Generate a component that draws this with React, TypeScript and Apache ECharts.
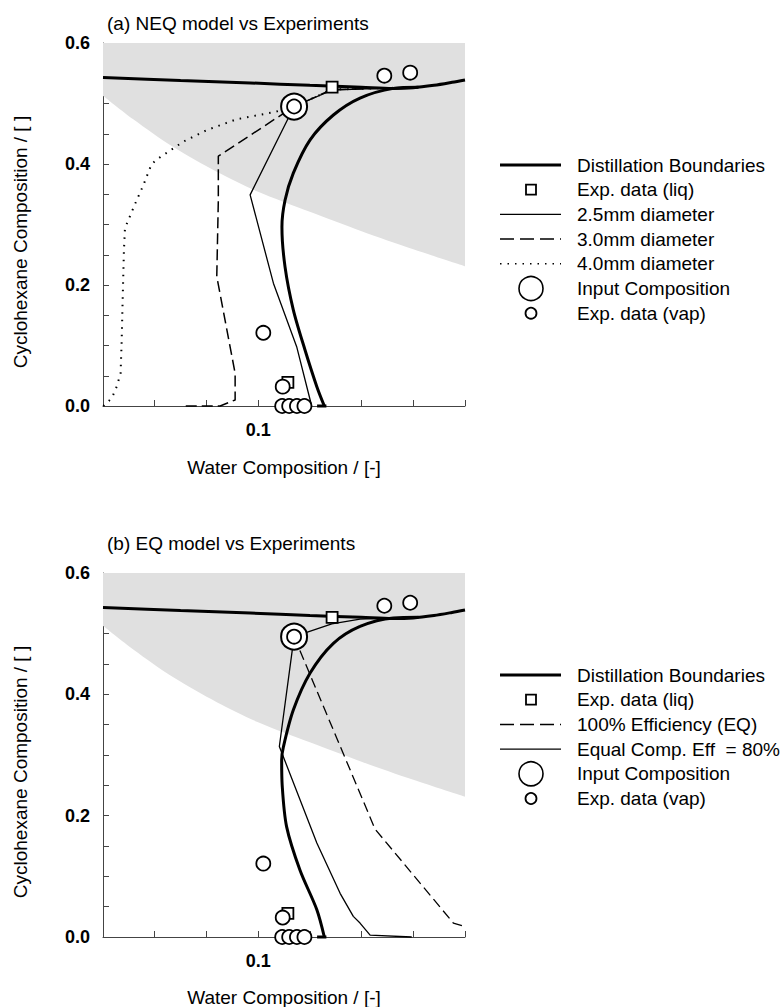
import React, { useEffect, useRef } from "react";
import * as echarts from "echarts";

// ---------- data ----------
const xTickLabels = [0.1];
const yTickLabels = [0.0, 0.2, 0.4, 0.6];

// shaded region lower boundary (region extends up to 0.6)
const grayX = [0.04, 0.0517, 0.0672, 0.084, 0.0995, 0.12, 0.14, 0.16, 0.18];
const grayY = [0.513, 0.474, 0.428, 0.387, 0.355, 0.321, 0.289, 0.259, 0.231];

// distillation boundaries
const boundUpperX = [0.04, 0.07, 0.097, 0.12, 0.14, 0.152, 0.16, 0.168, 0.175, 0.18];
const boundUpperY = [0.543, 0.538, 0.534, 0.53, 0.527, 0.525, 0.526, 0.53, 0.535, 0.539];
const boundStubX = [0.1228, 0.1264];
const boundStubY = [0, 0];
const boundCurveAX = [0.1256, 0.1227, 0.1181, 0.1136, 0.1104, 0.1092, 0.1104, 0.1136, 0.1201, 0.1291, 0.1394, 0.1523, 0.162];
const boundCurveAY = [0, 0.032, 0.093, 0.159, 0.23, 0.296, 0.34, 0.385, 0.44, 0.481, 0.509, 0.525, 0.527];
const boundCurveBX = [0.1256, 0.1227, 0.1162, 0.111, 0.1093, 0.1091, 0.1098, 0.1136, 0.1201, 0.1291, 0.1394, 0.1523, 0.162];
const boundCurveBY = [0, 0.045, 0.11, 0.182, 0.25, 0.292, 0.314, 0.374, 0.435, 0.484, 0.512, 0.526, 0.527];

// panel (a) NEQ model profiles
const d25X = [0.1207, 0.1149, 0.1059, 0.0969, 0.1139, 0.1285, 0.152];
const d25Y = [0, 0.098, 0.203, 0.349, 0.495, 0.522, 0.526];
const d30X = [0.072, 0.0853, 0.0911, 0.0911, 0.084, 0.0846, 0.0846, 0.1139, 0.1285, 0.152];
const d30Y = [0, 0, 0.01, 0.054, 0.214, 0.34, 0.413, 0.495, 0.523, 0.526];
const d40X = [0.0401, 0.0434, 0.0453, 0.0468, 0.0472, 0.0476, 0.0481, 0.0485, 0.0524, 0.0556, 0.0588, 0.062, 0.0711, 0.0801, 0.0917, 0.1065, 0.1139, 0.1285, 0.152];
const d40Y = [0, 0.013, 0.032, 0.054, 0.104, 0.175, 0.258, 0.294, 0.334, 0.365, 0.4, 0.411, 0.437, 0.456, 0.474, 0.486, 0.495, 0.523, 0.526];

// panel (b) EQ model profiles
const eq100X = [0.1139, 0.1452, 0.1755, 0.18];
const eq100Y = [0.495, 0.178, 0.023, 0.017];
const eq80X = [0.1594, 0.1433, 0.1394, 0.1368, 0.1317, 0.1227, 0.1082, 0.1139, 0.1285, 0.1394, 0.152];
const eq80Y = [0, 0.003, 0.023, 0.034, 0.072, 0.155, 0.314, 0.495, 0.516, 0.524, 0.526];

// experiments
const vapX = [0.1488, 0.1588, 0.102, 0.1095, 0.1093, 0.112, 0.115, 0.1179, 0.1139];
const vapY = [0.546, 0.551, 0.121, 0.032, 0, 0, 0, 0, 0.495];
const liqX = [0.1286, 0.1115];
const liqY = [0.527, 0.039];
const inputX = [0.1139];
const inputY = [0.495];

const legendA = ["Distillation Boundaries", "Exp. data (liq)", "2.5mm diameter", "3.0mm diameter", "4.0mm diameter", "Input Composition", "Exp. data (vap)"];
const legendB = ["Distillation Boundaries", "Exp. data (liq)", "100% Efficiency (EQ)", "Equal Comp. Eff  = 80%", "Input Composition", "Exp. data (vap)"];

const FONT = "'Liberation Sans', Arial, Helvetica, sans-serif";
const FS = 19;
const zip = (xs: number[], ys: number[]) => xs.map((x, i) => [x, ys[i]]);

function lineSeries(name: string, idx: number, xs: number[], ys: number[], width: number, type: any, smooth: any = false, z = 3) {
  return {
    name, type: "line", xAxisIndex: idx, yAxisIndex: idx, data: zip(xs, ys),
    symbol: "none", smooth, clip: false, z, silent: true,
    lineStyle: { color: "#000", width, type },
  };
}
function scatterSeries(name: string, idx: number, xs: number[], ys: number[], symbol: string, size: number, bw: number, z: number) {
  return {
    name, type: "scatter", xAxisIndex: idx, yAxisIndex: idx, data: zip(xs, ys),
    symbol, symbolSize: size, clip: false, z, silent: true,
    itemStyle: { color: "#fff", borderColor: "#000", borderWidth: bw, opacity: 1 },
  };
}

function legendGraphics(items: string[], kinds: string[], top: number, step: number) {
  const els: any[] = [];
  items.forEach((label, i) => {
    const y = top + i * step;
    const k = kinds[i];
    const lx1 = 500, lx2 = 561, cx = 531;
    if (k === "thick") els.push({ type: "line", shape: { x1: lx1, y1: y, x2: lx2, y2: y }, style: { stroke: "#000", lineWidth: 3 } });
    if (k === "thin") els.push({ type: "line", shape: { x1: lx1, y1: y, x2: lx2, y2: y }, style: { stroke: "#000", lineWidth: 1.3 } });
    if (k === "dash") els.push({ type: "line", shape: { x1: lx1, y1: y, x2: lx2, y2: y }, style: { stroke: "#000", lineWidth: 1.5, lineDash: [14, 6] } });
    if (k === "dot") els.push({ type: "line", shape: { x1: lx1, y1: y, x2: lx2, y2: y }, style: { stroke: "#000", lineWidth: 1.6, lineDash: [1.5, 6] } });
    if (k === "square") els.push({ type: "rect", shape: { x: cx - 5, y: y - 5, width: 10, height: 10 }, style: { fill: "#fff", stroke: "#000", lineWidth: 1.8 } });
    if (k === "big") els.push({ type: "circle", shape: { cx, cy: y, r: 12 }, style: { fill: "#fff", stroke: "#000", lineWidth: 1.6 } });
    if (k === "small") els.push({ type: "circle", shape: { cx, cy: y, r: 5.5 }, style: { fill: "#fff", stroke: "#000", lineWidth: 1.8 } });
    els.push({ type: "text", x: 577, y, style: { text: label, fill: "#000", fontSize: FS, fontFamily: FONT, align: "left", verticalAlign: "middle" } });
  });
  return els;
}

export default function App() {
  const ref = useRef<HTMLDivElement>(null);
  useEffect(() => {
    if (!ref.current) return;
    const chart = echarts.init(ref.current, null, { renderer: "svg" });
    const grids = [
      { left: 103, top: 43, width: 362, height: 363 },
      { left: 103, top: 573, width: 362, height: 364 },
    ];
    const xAxes = [0, 1].map((i) => ({
      gridIndex: i, type: "value", min: 0.04, max: 0.18, interval: 0.02,
      axisLine: { show: true, onZero: false, lineStyle: { color: "#444", width: 1 } },
      axisTick: { show: true, inside: true, length: 6, lineStyle: { color: "#444" } },
      axisLabel: {
        margin: 15, color: "#000", fontSize: 18, fontWeight: "bold", fontFamily: FONT,
        formatter: (v: number) => (xTickLabels.some((t) => Math.abs(t - v) < 1e-6) ? String(v.toFixed(1)) : ""),
      },
      splitLine: { show: false },
    }));
    const yAxes = [0, 1].map((i) => ({
      gridIndex: i, type: "value", min: 0, max: 0.6, interval: 0.05,
      axisLine: { show: true, onZero: false, lineStyle: { color: "#444", width: 1 } },
      axisTick: { show: true, inside: true, length: 6, lineStyle: { color: "#444" } },
      axisLabel: {
        margin: 13, color: "#000", fontSize: 18, fontWeight: "bold", fontFamily: FONT,
        formatter: (v: number) => (yTickLabels.some((t) => Math.abs(t - v) < 1e-6) ? v.toFixed(1) : ""),
      },
      splitLine: { show: false },
    }));

    const series: any[] = [];
    [0, 1].forEach((i) => {
      series.push({
        name: "region", type: "line", xAxisIndex: i, yAxisIndex: i, data: zip(grayX, grayY),
        symbol: "none", smooth: 0.3, silent: true, z: 1,
        lineStyle: { width: 0, color: "#e0e0e0" },
        areaStyle: { color: "#e0e0e0", origin: "end", opacity: 1 },
      });
      series.push(lineSeries("Distillation Boundaries", i, boundUpperX, boundUpperY, 3, "solid", 0.3, 4));
      series.push(lineSeries("Distillation Boundaries", i, boundStubX, boundStubY, 3, "solid", false, 4));
    });
    series.push(lineSeries("Distillation Boundaries", 0, boundCurveAX, boundCurveAY, 3, "solid", 0.3, 4));
    series.push(lineSeries("Distillation Boundaries", 1, boundCurveBX, boundCurveBY, 3, "solid", 0.3, 4));
    series.push(lineSeries("2.5mm diameter", 0, d25X, d25Y, 1.3, "solid"));
    series.push(lineSeries("3.0mm diameter", 0, d30X, d30Y, 1.5, [11, 5]));
    series.push(lineSeries("4.0mm diameter", 0, d40X, d40Y, 2, [1.5, 6]));
    series.push(lineSeries("100% Efficiency (EQ)", 1, eq100X, eq100Y, 1.3, [10, 5]));
    series.push(lineSeries("Equal Comp. Eff = 80%", 1, eq80X, eq80Y, 1.3, "solid"));
    [0, 1].forEach((i) => {
      series.push(scatterSeries("Exp. data (liq)", i, liqX, liqY, "rect", 11, 1.8, 6));
      series.push(scatterSeries("Input Composition", i, inputX, inputY, "circle", 26, 2, 7));
      series.push(scatterSeries("Exp. data (vap)", i, vapX, vapY, "circle", 14, 1.8, 8));
    });

    const txt = (text: string, x: number, y: number, align: string, rotation = 0) => ({
      type: "text", x, y, rotation,
      style: { text, fill: "#000", fontSize: FS, fontFamily: FONT, align, verticalAlign: "middle" },
    });
    const graphic: any[] = [
      txt("(a) NEQ model vs Experiments", 107, 23, "left"),
      txt("(b) EQ model vs Experiments", 107, 543, "left"),
      txt("Cyclohexane Composition / [ ]", 20, 242, "center", Math.PI / 2),
      txt("Cyclohexane Composition / [ ]", 20, 772, "center", Math.PI / 2),
      txt("Water Composition / [-]", 284, 467, "center"),
      txt("Water Composition / [-]", 284, 997, "center"),
      ...legendGraphics(legendA, ["thick", "square", "thin", "dash", "dot", "big", "small"], 165, 24.7),
      ...legendGraphics(legendB, ["thick", "square", "dash", "thin", "big", "small"], 675, 24.7),
    ];

    chart.setOption({
      animation: false,
      backgroundColor: "#fff",
      grid: grids,
      xAxis: xAxes,
      yAxis: yAxes,
      series,
      graphic,
    });
    return () => chart.dispose();
  }, []);
  return <div ref={ref} style={{ position: "fixed", left: 0, top: 0, width: 783, height: 1007 }} />;
}
